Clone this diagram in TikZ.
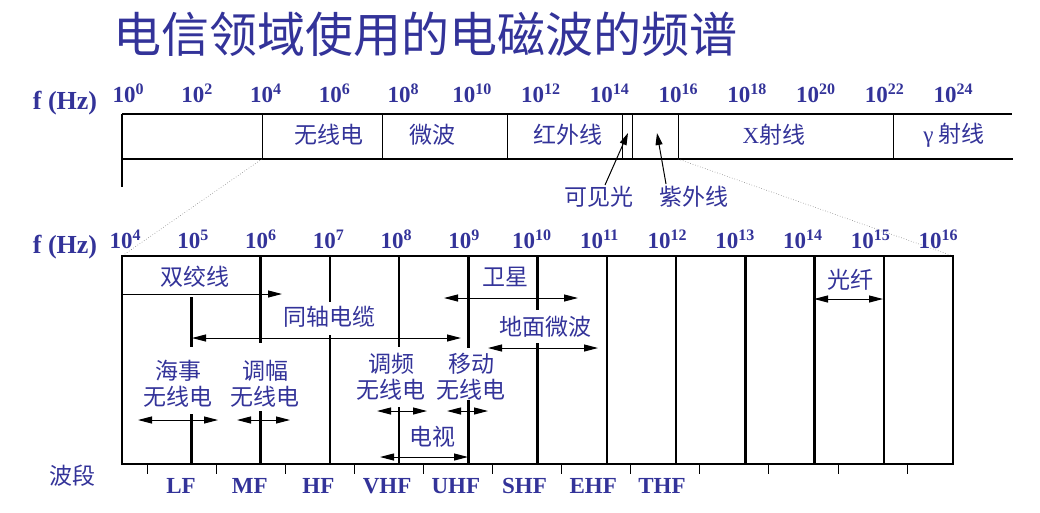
\documentclass[tikz,border=0pt]{standalone}
\usepackage{fontspec}
\setmainfont{Liberation Serif}
\newfontfamily\cjk{Noto Sans CJK SC}
\usetikzlibrary{arrows.meta}
\definecolor{tc}{RGB}{51,51,153}
\newcommand{\tenp}[1]{10\raisebox{0.33em}{\fontsize{16}{16}\selectfont #1}}
\begin{document}
\begin{tikzpicture}[x=1pt,y=-1pt,
  num/.style={font=\fontsize{23}{23}\selectfont\bfseries, text=tc, inner sep=0pt, anchor=base},
  hz/.style={font=\fontsize{26}{26}\selectfont\bfseries, text=tc, inner sep=0pt, anchor=base},
  zh/.style={font=\cjk\fontsize{23}{26}\selectfont, text=tc, inner sep=0pt, align=center},
  titletext/.style={font=\cjk\fontsize{48}{50}\selectfont, text=tc, inner sep=0pt, anchor=west},
  bandlab/.style={font=\fontsize{23}{23}\selectfont\bfseries, text=tc, inner sep=0pt, anchor=base},
  barline/.style={line width=2pt},
  divline/.style={line width=1pt},
  boxline/.style={line width=2.5pt},
  dimarrow/.style={line width=1pt, {Triangle[length=14pt,width=7pt]}-{Triangle[length=14pt,width=7pt]}},
  onearrow/.style={line width=1pt, -{Triangle[length=14pt,width=7pt]}},
  pointer/.style={line width=1pt, -{Triangle[length=12pt,width=7pt]}},
  zoomline/.style={gray, line width=0.6pt, dotted},
  tickline/.style={line width=1pt}
]
\useasboundingbox (0,0) rectangle (1040,512);

% title
\node[titletext] (title) at (113,34) {电信领域使用的电磁波的频谱};

% ---------- upper scale ----------
\node[hz] (hz1) at (65,109) {f (Hz)};
\foreach \k/\e in {0/0,1/2,2/4,3/6,4/8,5/10,6/12,7/14,8/16,9/18,10/20,11/22,12/24}{
  \node[num] (u\k) at ({128+68.75*\k},102) {\tenp{\e}};
}
\draw[barline] (122,114) -- (1012,114);
\draw[barline] (123,159) -- (1013,159);
\draw[barline] (122,114) -- (122,187);
\foreach \x in {262,382,507,622,632,678,893}{
  \draw[divline] (\x,114) -- (\x,159);
}
\node[zh] (radio) at (329,135) {无线电};
\node[zh] (micro) at (432,135) {微波};
\node[zh] (ir) at (568,135) {红外线};
\node[zh] (xray) at (774,135) {{\rmfamily X}射线};
\node[zh] (gray) at (954,135) {{\rmfamily γ} 射线};
\node[zh] (vis) at (599,197) {可见光};
\node[zh] (uv) at (694,197) {紫外线};
\coordinate (vistail) at (605,185);
\coordinate (vistip) at (628,133);
\coordinate (uvtail) at (666,184);
\coordinate (uvtip) at (657,133);
\draw[pointer] (vistail) -- (vistip);
\draw[pointer] (uvtail) -- (uvtip);

% zoom lines
\coordinate (zl1) at (262,159);
\coordinate (zl2) at (122,256);
\coordinate (zr1) at (678,159);
\coordinate (zr2) at (953,256);
\draw[zoomline] (zl1) -- (zl2);
\draw[zoomline] (zr1) -- (zr2);

% ---------- lower scale ----------
\node[hz] (hz2) at (65,253) {f (Hz)};
\foreach \k/\e in {0/4,1/5,2/6,3/7,4/8,5/9,6/10,7/11,8/12,9/13,10/14,11/15,12/16}{
  \node[num] (l\k) at ({125+67.75*\k},248) {\tenp{\e}};
}
\draw[boxline] (122,256) rectangle (953,464);
% partial verticals
\draw[boxline] (191.25,297) -- (191.25,347);
\draw[boxline] (191.25,414) -- (191.25,464);
\draw[boxline] (260.5,256) -- (260.5,343);
\draw[boxline] (260.5,411) -- (260.5,464);
\draw[boxline] (329.75,256) -- (329.75,302);
\draw[boxline] (329.75,335) -- (329.75,464);
\draw[boxline] (399,256) -- (399,347);
\draw[boxline] (399,407) -- (399,464);
\draw[boxline] (468.25,256) -- (468.25,348);
\draw[boxline] (468.25,400) -- (468.25,464);
\draw[boxline] (537.5,256) -- (537.5,310);
\draw[boxline] (537.5,343) -- (537.5,464);
\foreach \x in {606.75,676,745.25,814.5,883.75}{
  \draw[boxline] (\x,256) -- (\x,464);
}
% bottom ticks
\foreach \k in {0,...,11}{
  \draw[tickline] ({147+69.1*\k},464) -- ({147+69.1*\k},474);
}
% band labels
\node[zh] (bd) at (72,476) {波段};
\foreach \k/\b in {0/LF,1/MF,2/HF,3/VHF,4/UHF,5/SHF,6/EHF,7/THF}{
  \node[bandlab] (b\k) at ({181+68.7*\k},493) {\b};
}

% medium labels
\node[zh] (twist) at (195,277) {双绞线};
\node[zh] (coax) at (329,317) {同轴电缆};
\node[zh] (sat) at (505,277) {卫星};
\node[zh] (ground) at (545,327) {地面微波};
\node[zh] (fiber) at (850,280) {光纤};
\node[zh] (sea) at (178,384) {海事\\无线电};
\node[zh] (am) at (265,384) {调幅\\无线电};
\node[zh] (fm) at (391,377) {调频\\无线电};
\node[zh] (mob) at (471,377) {移动\\无线电};
\node[zh] (tv) at (432,437) {电视};

% arrow end points
\coordinate (twA) at (122,294);
\coordinate (twB) at (282,294);
\coordinate (coA) at (192,338);
\coordinate (coB) at (461,338);
\coordinate (saA) at (444,298);
\coordinate (saB) at (578,298);
\coordinate (grA) at (488,348);
\coordinate (grB) at (598,348);
\coordinate (fiA) at (814,299);
\coordinate (fiB) at (883,299);
\coordinate (seA) at (138,420);
\coordinate (seB) at (218,420);
\coordinate (amA) at (237,420);
\coordinate (amB) at (290,420);
\coordinate (fmA) at (377,411);
\coordinate (fmB) at (427,411);
\coordinate (moA) at (447,411);
\coordinate (moB) at (488,411);
\coordinate (tvA) at (380,457);
\coordinate (tvB) at (468,457);

\draw[onearrow] (twA) -- (twB);
\draw[dimarrow] (coA) -- (coB);
\draw[dimarrow] (saA) -- (saB);
\draw[dimarrow] (grA) -- (grB);
\draw[dimarrow] (fiA) -- (fiB);
\draw[dimarrow] (seA) -- (seB);
\draw[dimarrow] (amA) -- (amB);
\draw[dimarrow] (fmA) -- (fmB);
\draw[dimarrow] (moA) -- (moB);
\draw[dimarrow] (tvA) -- (tvB);
\end{tikzpicture}
\end{document}
